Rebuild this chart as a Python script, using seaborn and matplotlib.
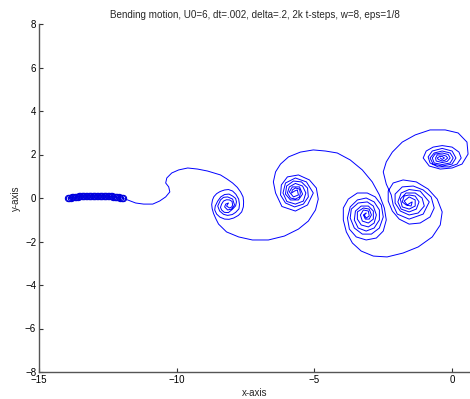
import numpy as np
import pandas as pd
import matplotlib
matplotlib.use("Agg")
import matplotlib.pyplot as plt
import seaborn as sns

# bending plate: marker positions along the plate
plate_x = [-13.95, -13.90, -13.85, -13.80, -13.75, -13.70, -13.65, -13.60, -13.55,
           -13.50, -13.45, -13.40, -13.35, -13.30, -13.25, -13.20, -13.15, -13.10,
           -13.05, -13.00, -12.95, -12.90, -12.85, -12.80, -12.75, -12.70, -12.65,
           -12.60, -12.55, -12.50, -12.45, -12.40, -12.35, -12.30, -12.25, -12.20,
           -12.15, -12.10, -12.05, -12.00, -11.95]
plate_y = [0.00, 0.01, 0.02, 0.03, 0.04, 0.05, 0.06, 0.06, 0.07, 0.08, 0.08, 0.09,
           0.09, 0.10, 0.10, 0.10, 0.11, 0.11, 0.11, 0.11, 0.11, 0.11, 0.11, 0.11,
           0.11, 0.10, 0.10, 0.10, 0.09, 0.09, 0.08, 0.08, 0.07, 0.06, 0.06, 0.05,
           0.04, 0.03, 0.02, 0.01, 0.00]

# shed vortex sheet, piece by piece from the plate edge to the free end
lead_x = [-11.99, -11.78, -11.49, -11.20, -10.87, -10.62, -10.40, -10.25, -10.29,
          -10.40, -10.36, -10.18, -9.93, -9.60, -9.24, -8.88]
lead_y = [0.00, -0.09, -0.23, -0.28, -0.28, -0.14, 0.05, 0.28, 0.51, 0.69, 0.92,
          1.15, 1.29, 1.38, 1.33, 1.24]

spiral_a_x = [-8.41, -8.17, -7.97, -7.80, -7.68, -7.59, -7.57, -7.58, -7.64, -7.76,
              -7.93, -8.10, -8.26, -8.43, -8.55, -8.62, -8.60, -8.51, -8.40, -8.26,
              -8.10, -7.97, -7.86, -7.83, -7.86, -7.97, -8.12, -8.27, -8.37, -8.41,
              -8.37, -8.30, -8.19, -8.08, -7.99, -7.97, -8.00, -8.08, -8.19, -8.12,
              -8.22, -8.26, -8.15, -8.01, -7.90, -7.97, -8.15, -8.30, -8.41, -8.51,
              -8.44, -8.30, -8.15, -7.98, -7.86, -7.74, -7.72, -7.75, -7.85, -7.97,
              -8.12, -8.26, -8.42, -8.55, -8.65, -8.70, -8.73, -8.71, -8.66, -8.58,
              -8.48, -8.19, -7.75, -7.25, -6.67, -6.09, -5.58, -5.22]
spiral_a_y = [1.06, 0.87, 0.69, 0.49, 0.28, 0.05, -0.18, -0.41, -0.64, -0.80,
              -0.92, -0.98, -0.97, -0.88, -0.74, -0.55, -0.37, -0.14, 0.05, 0.16,
              0.18, 0.09, -0.02, -0.18, -0.36, -0.51, -0.67, -0.66, -0.55, -0.43,
              -0.28, -0.14, -0.08, -0.09, -0.16, -0.32, -0.41, -0.46, -0.37, -0.23,
              -0.28, -0.41, -0.55, -0.51, -0.32, -0.05, 0.05, 0.03, -0.09, -0.37,
              -0.60, -0.75, -0.80, -0.76, -0.66, -0.50, -0.30, -0.05, 0.17, 0.32,
              0.39, 0.37, 0.30, 0.20, 0.06, -0.09, -0.30, -0.50, -0.72, -0.95,
              -1.20, -1.56, -1.79, -1.93, -1.93, -1.75, -1.43, -1.06]

spiral_b_x = [-4.96, -4.86, -4.93, -5.18, -5.58, -5.98, -6.20, -6.23, -6.05, -5.72,
              -5.40, -5.22, -5.25, -5.47, -5.76, -6.01, -6.05, -5.87, -5.58, -5.43,
              -5.54, -5.80, -5.91, -5.76, -5.58, -5.62, -5.72,
              -5.83, -5.80, -5.69, -5.54, -5.51, -5.54, -5.69, -5.87, -5.98, -5.91,
              -5.69, -5.43, -5.31, -5.40, -5.69, -6.00, -6.14, -6.05, -5.69, -5.29,
              -5.04, -5.25, -5.69, -6.18, -6.41, -6.49, -6.41, -6.23, -5.94, -5.51,
              -5.04, -4.60, -4.17]
spiral_b_y = [-0.55, -0.05, 0.46, 0.83, 1.06, 0.97, 0.60, 0.14, -0.23, -0.41,
              -0.28, 0.05, 0.46, 0.74, 0.78, 0.55, 0.18, -0.09, -0.09, 0.18,
              0.51, 0.51, 0.28, 0.05, 0.14, 0.37, 0.32,
              0.23, 0.37, 0.46, 0.41, 0.23, 0.05, -0.05, 0.00, 0.23, 0.51,
              0.67, 0.55, 0.23, -0.14, -0.28, -0.16, 0.23, 0.69, 0.92, 0.74,
              0.23, -0.32, -0.60, -0.39, 0.23, 0.74, 1.20, 1.56, 1.89, 2.11,
              2.21, 2.16, 2.07]

spiral_c_x = [-3.70, -3.26, -2.90, -2.64, -2.46, -2.39, -2.50, -2.75, -3.12, -3.48,
              -3.73, -3.80, -3.70, -3.44, -3.12, -2.83, -2.64, -2.64, -2.83, -3.12,
              -3.41, -3.55, -3.51, -3.30, -3.04, -2.86, -2.86, -3.04, -3.26, -3.33,
              -3.22, -3.04, -3.01, -3.12, -3.19,
              -3.12, -3.22, -3.15, -3.01, -2.93, -3.01, -3.22, -3.44, -3.44, -3.30,
              -3.04, -2.83, -2.75, -2.86, -3.08, -3.41, -3.66, -3.70, -3.55, -3.26,
              -2.93, -2.64, -2.50, -2.57, -2.79, -3.08, -3.44, -3.77, -3.95, -3.95,
              -3.84, -3.62, -3.30, -2.86, -2.36, -1.78, -1.23, -0.72, -0.43, -0.36,
              -0.54, -0.87, -1.30, -1.78, -2.14, -2.32, -2.32, -2.17]
spiral_c_y = [1.75, 1.29, 0.74, 0.14, -0.46, -1.01, -1.52, -1.84, -1.93, -1.79,
              -1.43, -0.92, -0.41, -0.09, 0.00, -0.18, -0.55, -1.01, -1.38, -1.52,
              -1.38, -1.01, -0.60, -0.37, -0.37, -0.60, -0.97, -1.15, -1.06, -0.78,
              -0.55, -0.60, -0.83, -0.92, -0.78,
              -0.69, -0.78, -0.97, -0.97, -0.78, -0.51, -0.46, -0.64, -0.97, -1.24,
              -1.33, -1.15, -0.78, -0.37, -0.18, -0.23, -0.51, -0.92, -1.38, -1.66,
              -1.66, -1.38, -0.87, -0.32, 0.05, 0.23, 0.23, -0.05, -0.46, -1.01,
              -1.56, -2.07, -2.44, -2.67, -2.71, -2.53, -2.25, -1.79, -1.24, -0.64,
              -0.05, 0.41, 0.74, 0.83, 0.69, 0.32, -0.14, -0.60]

spiral_d_x = [-1.92, -1.56, -1.16, -0.80, -0.65, -0.76, -1.05, -1.41, -1.81, -2.07,
              -2.07, -1.88, -1.56, -1.23, -1.01, -1.09, -1.34, -1.67, -1.88, -1.81,
              -1.56, -1.34, -1.34, -1.56, -1.74, -1.63, -1.52,
              -1.45, -1.49, -1.67, -1.81, -1.74, -1.56, -1.34, -1.20, -1.30, -1.56,
              -1.85, -1.97, -1.85, -1.56, -1.16, -0.83, -1.05, -1.56, -1.99, -2.14,
              -2.21, -2.39, -2.50]
spiral_d_y = [-0.97, -1.20, -1.15, -0.87, -0.46, 0.05, 0.37, 0.55, 0.51, 0.18,
              -0.23, -0.60, -0.78, -0.69, -0.37, 0.00, 0.23, 0.23, -0.05, -0.41,
              -0.51, -0.37, -0.09, 0.05, -0.14, -0.32, -0.23,
              -0.18, -0.37, -0.32, -0.18, 0.09, 0.14, 0.09, -0.18, -0.51, -0.64,
              -0.51, -0.18, 0.23, 0.39, 0.32, -0.18, -0.74, -0.97, -0.74, -0.32,
              0.14, 0.64, 1.20]

spiral_e_x = [-2.39, -2.17, -1.81, -1.34, -0.80, -0.25, 0.22, 0.54, 0.58, 0.36,
              0.00, -0.43, -0.83, -1.05, -0.94, -0.69, -0.36, 0.00, 0.25, 0.33,
              0.18, -0.11, -0.51, -0.80, -0.87, -0.72,
              -0.36, 0.00, 0.14, 0.00, -0.36, -0.69, -0.80, -0.65, -0.36, -0.07,
              0.04, -0.07, -0.36, -0.65, -0.72, -0.62, -0.36, -0.14, -0.07, -0.18,
              -0.36, -0.58, -0.60, -0.54, -0.36, -0.22, -0.16, -0.25, -0.36, -0.50,
              -0.54, -0.45, -0.36, -0.28, -0.36, -0.43]
spiral_e_y = [1.66, 2.11, 2.57, 2.90, 3.13, 3.13, 2.99, 2.57, 2.02, 1.56,
              1.38, 1.33, 1.47, 1.84, 2.16, 2.34, 2.41, 2.34, 2.11, 1.84,
              1.56, 1.43, 1.43, 1.61, 1.89, 2.16,
              2.28, 2.16, 1.84, 1.56, 1.47, 1.56, 1.84, 2.07, 2.16, 2.07,
              1.84, 1.61, 1.54, 1.61, 1.84, 2.02, 2.07, 2.00, 1.84, 1.68,
              1.63, 1.70, 1.84, 1.98, 1.98, 1.93, 1.84, 1.74, 1.70, 1.77,
              1.84, 1.91, 1.91, 1.84, 1.77, 1.84]

sheet = pd.DataFrame({
    "x": np.concatenate([lead_x, spiral_a_x, spiral_b_x, spiral_c_x, spiral_d_x, spiral_e_x]),
    "y": np.concatenate([lead_y, spiral_a_y, spiral_b_y, spiral_c_y, spiral_d_y, spiral_e_y]),
})
plate = pd.DataFrame({"x": plate_x, "y": plate_y})

sns.set_theme(style="ticks")
plt.rcParams["font.family"] = ["Liberation Sans", "DejaVu Sans"]

fig = plt.figure(figsize=(4.70, 3.99), dpi=100)
ax = fig.add_axes([39 / 470, 27 / 399, 431 / 470, 348 / 399])

sns.lineplot(data=sheet, x="x", y="y", sort=False, estimator=None,
             color="#0000ff", linewidth=0.7, ax=ax)
sns.lineplot(data=plate, x="x", y="y", sort=False, estimator=None,
             color="#0000ff", linewidth=0.7, marker="o", markersize=4.5,
             markerfacecolor="none", markeredgecolor="#0000dd",
             markeredgewidth=0.8, ax=ax)

ax.set_xlim(-15, 0.65)
ax.set_ylim(-8, 8)
ax.set_xticks([-15, -10, -5, 0])
ax.set_yticks([-8, -6, -4, -2, 0, 2, 4, 6, 8])
ax.tick_params(direction="in", length=3, width=0.8, colors="#333333",
               labelsize=7, labelcolor="black", pad=2)
for side in ("top", "right"):
    ax.spines[side].set_visible(False)
for side in ("left", "bottom"):
    ax.spines[side].set_color("#555555")
    ax.spines[side].set_linewidth(1.0)

ax.set_xlabel("x-axis", fontsize=7, labelpad=2)
ax.set_ylabel("y-axis", fontsize=7, labelpad=3)
ax.set_title("Bending motion, U0=6, dt=.002, delta=.2, 2k t-steps, w=8, eps=1/8",
             fontsize=7.1, pad=4)

fig.savefig("out.png", dpi=100)
